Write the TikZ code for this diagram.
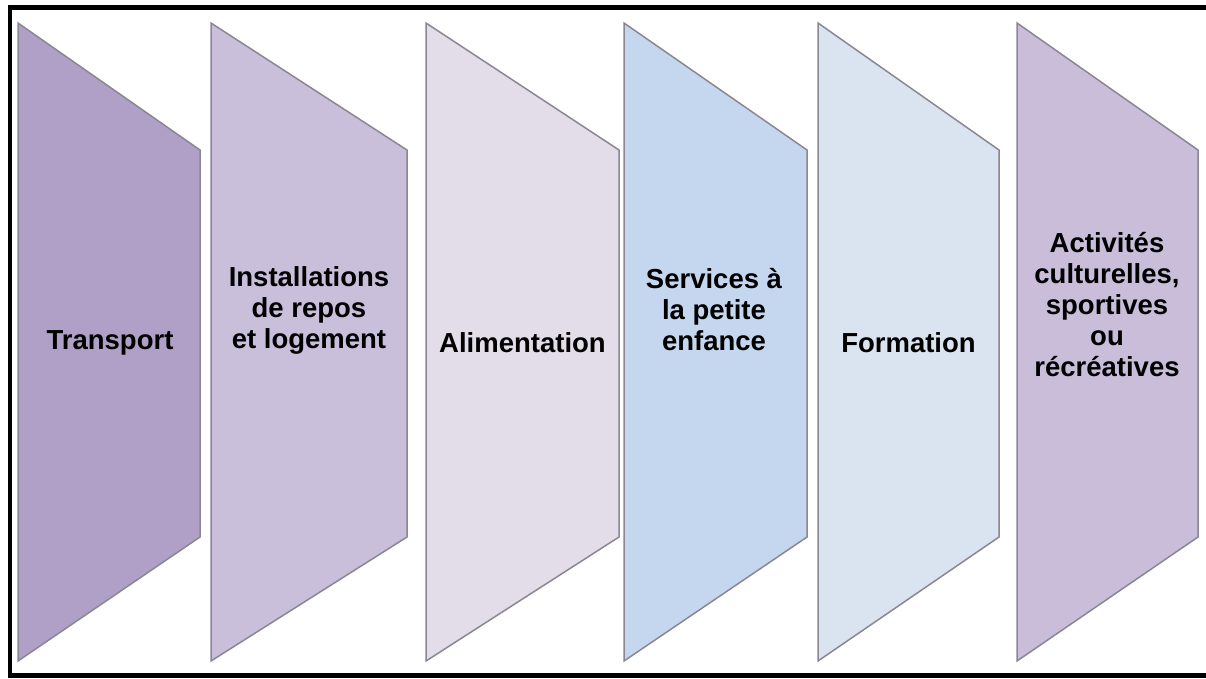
\documentclass[tikz,border=0pt]{standalone}
\usepackage{fontspec}
\setmainfont{Liberation Sans}
\definecolor{stageA}{HTML}{B09FC6}
\definecolor{stageB}{HTML}{C9BFDA}
\definecolor{stageC}{HTML}{E3DDEA}
\definecolor{stageD}{HTML}{C5D7EE}
\definecolor{stageE}{HTML}{DAE3F0}
\definecolor{stageF}{HTML}{C9BDDA}
\definecolor{stageedge}{HTML}{8A8793}
\begin{document}
\begin{tikzpicture}[x=1pt,y=-1pt,
  stagebox/.style={draw=stageedge, line width=1.5pt, line join=miter},
  stagetext/.style={font=\fontsize{27.5}{31}\selectfont\bfseries, align=center, text=black, inner sep=0pt},
  frameline/.style={draw=black, line width=4.5pt}]
\useasboundingbox (0,0) rectangle (1206,678);

% outer frame (open on the right)
\draw[frameline] (1206,7.5) -- (10,7.5) -- (10,675.5) -- (1206,675.5);

% the six stages: left x, right x, fill colour
\foreach \l/\r/\c in {18/200/stageA, 211/407/stageB, 426/619/stageC,
                      624/807/stageD, 818/999/stageE, 1017/1198/stageF}{
  \draw[stagebox, fill=\c] (\l,23) -- (\r,150) -- (\r,537) -- (\l,661) -- cycle;
}

% stage captions
\node[stagetext] (transport) at (110,343) {Transport};
\node[stagetext] (repos) at (309,310) {Installations\\de repos\\et logement};
\node[stagetext] (alim) at (522.5,343) {Alimentation};
\node[stagetext] (enfance) at (714,310) {Services à\\la petite\\enfance};
\node[stagetext] (formation) at (908.5,343) {Formation};
\node[stagetext] (activites) at (1107,305) {Activités\\culturelles,\\sportives\\ou\\récréatives};
\end{tikzpicture}
\end{document}
